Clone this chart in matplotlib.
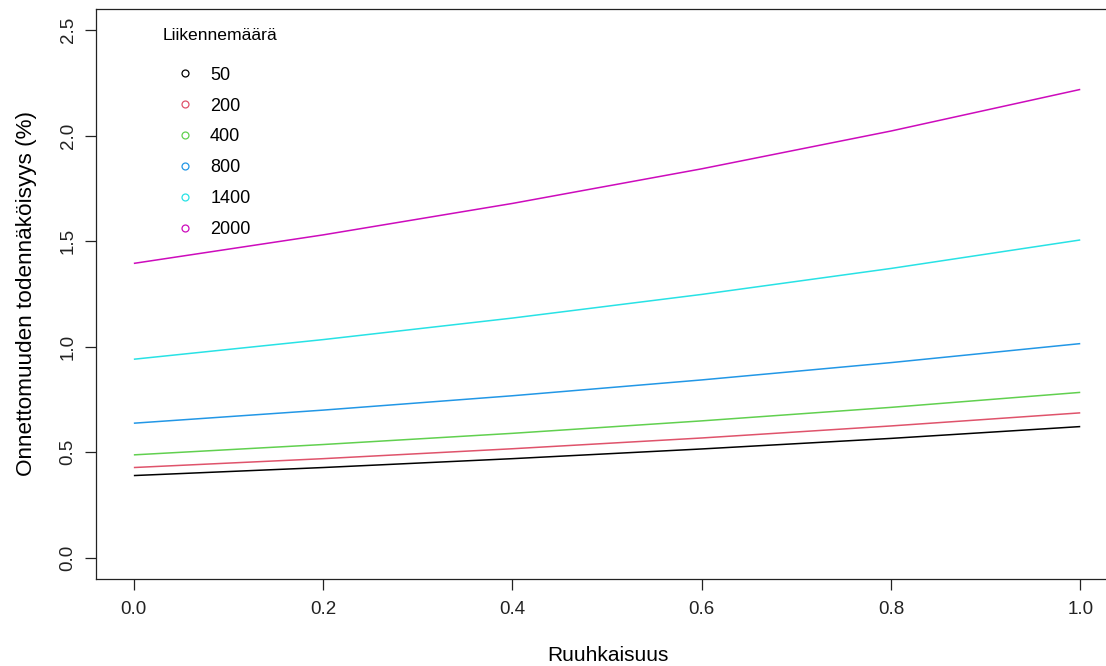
import matplotlib
matplotlib.use("Agg")
import matplotlib.pyplot as plt
from matplotlib.lines import Line2D

plt.rcParams["font.family"] = ["Liberation Sans", "DejaVu Sans"]

# Congestion level (x) and predicted accident probability (%) per traffic volume
ruuhkaisuus = [0.0, 0.2, 0.4, 0.6, 0.8, 1.0]
liikennemaarat = ["50", "200", "400", "800", "1400", "2000"]
p_50 = [0.390, 0.428, 0.470, 0.516, 0.566, 0.622]
p_200 = [0.428, 0.470, 0.517, 0.568, 0.625, 0.687]
p_400 = [0.488, 0.537, 0.590, 0.649, 0.713, 0.784]
p_800 = [0.638, 0.700, 0.768, 0.843, 0.925, 1.015]
p_1400 = [0.941, 1.034, 1.136, 1.248, 1.371, 1.506]
p_2000 = [1.395, 1.530, 1.679, 1.843, 2.022, 2.219]
sarjat = [p_50, p_200, p_400, p_800, p_1400, p_2000]
varit = ["#000000", "#DF536B", "#61D04F", "#2297E6", "#28E2E5", "#CD0BBC"]

x_ticks = [0.0, 0.2, 0.4, 0.6, 0.8, 1.0]
y_ticks = [0.0, 0.5, 1.0, 1.5, 2.0, 2.5]

W, H = 1106, 666
fig = plt.figure(figsize=(W / 100, H / 100), dpi=100)
left, right, top, bottom = 96, 1120, 9, 579
ax = fig.add_axes([left / W, (H - bottom) / H, (right - left) / W, (bottom - top) / H])

for arvot, vari in zip(sarjat, varit):
    ax.plot(ruuhkaisuus, arvot, color=vari, lw=1.1, solid_capstyle="butt")

ax.set_xlim(-0.04, 1.042)
ax.set_ylim(-0.1, 2.6)
ax.set_xticks(x_ticks)
ax.set_xticklabels([f"{v:.1f}" for v in x_ticks])
ax.set_yticks(y_ticks)
ax.set_yticklabels([f"{v:.1f}" for v in y_ticks], rotation=90, va="center")

for s in ax.spines.values():
    s.set_linewidth(0.9)
    s.set_color("#222222")
ax.spines["right"].set_visible(False)
ax.tick_params(axis="both", length=8, width=0.9, color="#222222",
               labelsize=13.5, labelcolor="#222222")
ax.tick_params(axis="x", pad=8)
ax.tick_params(axis="y", pad=6)

ax.set_xlabel("Ruuhkaisuus", fontsize=15, labelpad=20)
ax.set_ylabel("Onnettomuuden todennäköisyys (%)", fontsize=16.2, labelpad=16)

handles = [Line2D([], [], ls="none", marker="o", markersize=5, markerfacecolor="none",
                  markeredgecolor=v, markeredgewidth=0.9) for v in varit]
leg = ax.legend(handles, liikennemaarat, title="Liikennemäärä", frameon=False,
                loc="upper left", bbox_to_anchor=(163 / W, (H - 28) / H),
                bbox_transform=fig.transFigure, fontsize=13, title_fontsize=12.6,
                labelspacing=0.77, handlelength=2.44, handletextpad=0.17,
                numpoints=1, borderpad=0, borderaxespad=0)
leg._legend_box.sep = 17
leg._legend_box.align = "left"

fig.savefig("out.png", dpi=100)
